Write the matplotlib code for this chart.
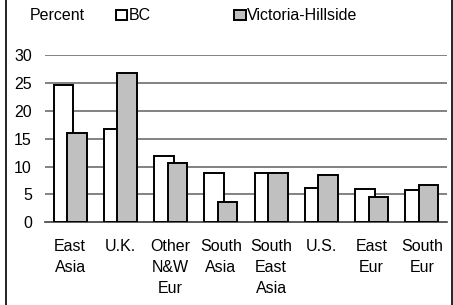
import numpy as np
import matplotlib
matplotlib.use("Agg")
import matplotlib.pyplot as plt
from matplotlib.patches import Rectangle

categories = ["East\nAsia", "U.K.", "Other\nN&W\nEur", "South\nAsia",
              "South\nEast\nAsia", "U.S.", "East\nEur", "South\nEur"]
bc = [24.6, 16.7, 11.8, 8.9, 8.9, 6.1, 6.0, 5.8]
victoria_hillside = [16.1, 26.7, 10.7, 3.6, 8.9, 8.5, 4.5, 6.6]
yticks = [0, 5, 10, 15, 20, 25, 30]


def main():
    plt.rcParams["font.family"] = ["Liberation Sans", "DejaVu Sans"]
    plt.rcParams["font.size"] = 11.5

    fig = plt.figure(figsize=(4.53, 3.05), dpi=100)
    ax = fig.add_axes([45 / 453, 82.7 / 305, 402 / 453, 167.3 / 305])

    x = np.arange(len(categories))
    width = 0.385
    off = 0.135
    ax.bar(x - off, bc, width, color="white", edgecolor="black",
           linewidth=1.4, label="BC", zorder=3)
    ax.bar(x + off, victoria_hillside, width, color="#c0c0c0",
           edgecolor="black", linewidth=1.4, label="Victoria-Hillside",
           zorder=4)

    ax.set_xlim(-0.5, len(categories) - 0.5)
    ax.set_ylim(0, 30)
    ax.set_yticks(yticks)
    ax.set_xticks(x)
    ax.set_xticklabels(categories, linespacing=1.5)
    ax.tick_params(axis="both", length=0)
    ax.tick_params(axis="x", pad=12)
    ax.tick_params(axis="y", pad=9.5)
    for s in ["top", "right", "left"]:
        ax.spines[s].set_visible(False)
    ax.spines["bottom"].set_color("#404040")
    ax.spines["bottom"].set_linewidth(1.2)
    for yv in yticks[1:]:
        ax.axhline(yv, color="#606060", linewidth=1.1, zorder=1)

    fig.text(30 / 453, 1 - 16 / 305, "Percent", va="center", ha="left")
    fig.legend(loc="center left", bbox_to_anchor=(116 / 453, 1 - 16 / 305),
               ncol=2, frameon=False, borderpad=0, borderaxespad=0,
               handlelength=0.72, handleheight=0.62, handletextpad=0.1,
               columnspacing=5.2)

    fig.patches.append(Rectangle((5.5 / 453, -0.1), 446 / 453, 1.2,
                                 transform=fig.transFigure, fill=False,
                                 edgecolor="black", linewidth=1.2))

    fig.savefig("out.png", dpi=100)


if __name__ == "__main__":
    main()
